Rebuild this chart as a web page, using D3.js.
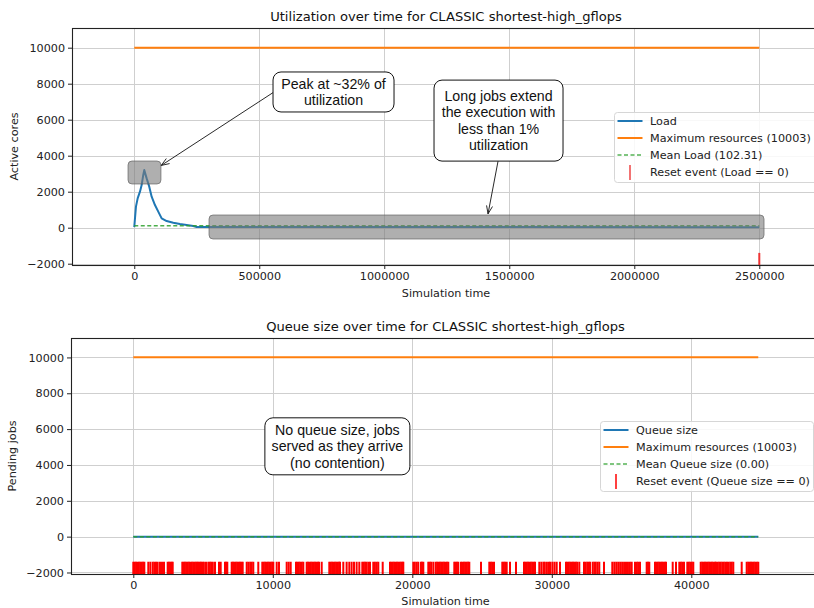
<!DOCTYPE html>
<html><head><meta charset="utf-8">
<script src="https://cdn.jsdelivr.net/npm/d3@7"></script>
<style>body{margin:0;background:#fff} svg{display:block}</style>
</head><body>
<svg id="chart" width="814" height="608"></svg>
<script>
// ---------------- DATA ----------------
const maxResources = 10003;
const meanLoad = 102.31;
const meanQueue = 0.0;
const loadTimes = [0, 6800, 13600, 22800, 29600, 36000, 40000, 49600, 60000, 69600, 82800, 96000, 109600, 129600, 156000, 182800, 209600, 236000, 249600, 2500000];
const loadValues = [30, 1170, 1630, 2000, 2370, 2930, 3200, 2740, 2280, 1720, 1260, 890, 520, 370, 280, 200, 150, 95, 40, 30];
const loadEndTime = 2500000;
const loadResetEvents = [2500000];
const queueTimes = [0, 44800];
const queueValues = [0, 0];
const queueEndTime = 44800;
const queueResetEvents = [
  0,100,200,300,400,500,600,700,790,
  1075,1220,1390,1505,1627,1748,1914,2057,2200,
  2465,2560,2660,2750,2824,
  3513,3610,3700,3800,3900,4000,4100,4200,4300,4400,4500,4600,4660,
  4780,4870,4960,5060,5211,
  5376,5480,5580,5700,5857,
  6143,6265,6573,6660,6738,
  7053,7150,7250,7350,7450,7550,7650,7750,7842,
  8129,8250,8380,8487,8602,8960,
  9247,9350,9450,9550,9650,9750,9850,9950,10036,
  10280,10444,10996,11140,11283,
  11663,11760,11860,11960,12080,12186,
  12430,12530,12630,12730,12830,12930,13030,13130,13230,13312,
  13505,
  14050,14150,14250,14350,14450,14550,14650,14750,14817,
  15054,15293,15484,15652,15819,16010,16201,
  16416,16520,16620,16720,16850,16968,
  17204,17320,17450,17563,17878,
  18402,18500,18600,18700,18800,18900,19000,19100,19200,19300,19355,
  20072,20180,20312,20430,20624,20700,20789,
  21147,21250,21350,21505,
  21677,21780,21880,21980,22080,22180,22280,22380,22480,22581,
  23011,23100,23200,23297,
  23492,23600,23700,23800,23900,24000,24086,
  24925,25520,25620,25720,25857,
  26452,26550,26650,26767,27004,27434,
  28007,28100,28200,28300,28400,28500,28600,28700,28796,
  29104,29250,29400,29500,29650,29800,29900,30050,30200,30351,
  30588,
  31018,31120,31220,31320,31420,31520,31620,31720,31820,31971,
  32308,32420,32540,32640,32738,
  32932,33050,33150,33280,33405,33742,
  34337,34480,34620,34760,34900,35040,35180,35320,35460,35600,35728,
  35964,36100,36200,36323,36802,36900,36989,
  37398,37500,37600,37700,37800,37900,38000,38100,38186,
  38667,38903,39140,39250,39350,39477,
  39714,39820,39920,40040,40143,
  40674,40780,40880,40980,41080,41180,41280,41380,41480,41580,41699,
  41771,41900,42007,
  42107,42220,42330,42440,42560,42680,42800,42900,43011,
  43613,
  43971,44080,44180,44280,44380,44480,44580,44700,44803
];
const yTicks = [-2000, 0, 2000, 4000, 6000, 8000, 10000];
const loadXTicks = [0, 500000, 1000000, 1500000, 2000000, 2500000];
const queueXTicks = [0, 10000, 20000, 30000, 40000];

// ---------------- SETUP ----------------
const svg = d3.select("#chart");
const C = {blue:"#1f77b4", orange:"#ff7f0e", green:"#2ca02c", red:"#ff0000"};
const tickFont = "DejaVu Sans, sans-serif";
const annFont = "Liberation Sans, Arial, sans-serif";
const FS = 11.2;

function panel(cfg) {
  const {left, right, top, bottom, xDomain, yDomain, xTicks, id} = cfg;
  const x = d3.scaleLinear().domain(xDomain).range([left, right]);
  const y = d3.scaleLinear().domain(yDomain).range([bottom, top]);
  const g = svg.append("g");
  svg.append("clipPath").attr("id", id).append("rect")
    .attr("x", left).attr("y", top).attr("width", right-left).attr("height", bottom-top);
  const grid = g.append("g").attr("stroke", "#cfcfcf").attr("stroke-width", 1);
  xTicks.forEach(t => grid.append("line").attr("x1", Math.round(x(t))+0.5).attr("x2", Math.round(x(t))+0.5).attr("y1", top).attr("y2", bottom));
  yTicks.forEach(t => grid.append("line").attr("y1", Math.round(y(t))+0.5).attr("y2", Math.round(y(t))+0.5).attr("x1", left).attr("x2", right));
  const xAxis = d3.axisBottom(x).tickValues(xTicks).tickFormat(d3.format("d")).tickSize(4).tickPadding(3);
  const yAxis = d3.axisLeft(y).tickValues(yTicks).tickFormat(d3.format("d")).tickSize(4).tickPadding(3);
  const gx = svg.append("g").attr("transform", `translate(0,${bottom})`).call(xAxis);
  const gy = svg.append("g").attr("transform", `translate(${left},0)`).call(yAxis);
  [gx, gy].forEach(a => {
    a.select(".domain").remove();
    a.selectAll("text").attr("font-family", tickFont).attr("font-size", FS).attr("fill", "#222");
    a.selectAll("line").attr("stroke", "#222");
  });
  const data = g.append("g").attr("clip-path", `url(#${id})`);
  return {x, y, g, data, left, right, top, bottom};
}

function frame(p) {
  svg.append("rect").attr("x", p.left+0.5).attr("y", p.top+0.5).attr("width", p.right-p.left).attr("height", p.bottom-p.top)
    .attr("fill", "none").attr("stroke", "#222").attr("stroke-width", 1.1);
}

function titles(p, title, xlabel, ylabel, titleY, xlabY, ylabX) {
  const cx = (p.left + p.right) / 2;
  svg.append("text").attr("x", cx).attr("y", titleY).attr("text-anchor", "middle")
    .attr("font-family", tickFont).attr("font-size", 13.1).attr("fill", "#111").text(title);
  svg.append("text").attr("x", cx).attr("y", xlabY).attr("text-anchor", "middle")
    .attr("font-family", tickFont).attr("font-size", FS).attr("fill", "#222").text(xlabel);
  svg.append("text").attr("transform", `translate(${ylabX},${(p.top+p.bottom)/2}) rotate(-90)`)
    .attr("text-anchor", "middle").attr("font-family", tickFont).attr("font-size", FS).attr("fill", "#222").text(ylabel);
}

function series(p, times, values, endTime, mean, events, eventColor) {
  const line = d3.line().x(d => p.x(d[0])).y(d => p.y(d[1]));
  p.data.append("path").attr("d", line([[0, maxResources], [endTime, maxResources]]))
    .attr("stroke", C.orange).attr("stroke-width", 2).attr("fill", "none");
  p.data.append("path").attr("d", line(times.map((t, i) => [t, values[i]])))
    .attr("stroke", C.blue).attr("stroke-width", 2).attr("fill", "none").attr("stroke-linejoin", "round");
  p.data.append("path").attr("d", line([[0, mean], [endTime, mean]]))
    .attr("stroke", C.green).attr("stroke-width", 1.5).attr("stroke-dasharray", "4,2.5").attr("fill", "none").attr("opacity", 0.85);
  p.data.append("g").selectAll("line").data(events).join("line")
    .attr("x1", d => p.x(d)).attr("x2", d => p.x(d))
    .attr("y1", p.y(-1400)).attr("y2", p.y(-2600))
    .attr("stroke", eventColor).attr("stroke-width", 2);
}

function legend(x, y, w, h, labels, eventColor) {
  const g = svg.append("g");
  g.append("rect").attr("x", x+0.5).attr("y", y+0.5).attr("width", w).attr("height", h).attr("rx", 3)
    .attr("fill", "#fff").attr("fill-opacity", 0.85).attr("stroke", "#d6d6d6").attr("stroke-width", 1);
  const rowH = 17, x0 = x + 3.5, x1 = x + 28.5, tx = x + 36;
  labels.forEach((lab, i) => {
    const cy = y + 9 + i * rowH;
    if (i === 0) g.append("line").attr("x1", x0).attr("x2", x1).attr("y1", cy).attr("y2", cy).attr("stroke", C.blue).attr("stroke-width", 2);
    if (i === 1) g.append("line").attr("x1", x0).attr("x2", x1).attr("y1", cy).attr("y2", cy).attr("stroke", C.orange).attr("stroke-width", 2);
    if (i === 2) g.append("line").attr("x1", x0).attr("x2", x1).attr("y1", cy).attr("y2", cy).attr("stroke", C.green).attr("stroke-width", 1.5).attr("stroke-dasharray", "4,2.5").attr("opacity", 0.8);
    if (i === 3) g.append("line").attr("x1", (x0+x1)/2).attr("x2", (x0+x1)/2).attr("y1", cy-7).attr("y2", cy+8).attr("stroke", eventColor).attr("stroke-width", 1.5);
    g.append("text").attr("x", tx).attr("y", cy).attr("dy", "0.35em").attr("font-family", tickFont)
      .attr("font-size", FS).attr("fill", "#222").text(lab);
  });
}

function note(p, cx, cy, lines, w, h) {
  const px = p.x(cx), py = p.y(cy);
  const g = svg.append("g");
  g.append("rect").attr("x", px - w/2).attr("y", py - h/2).attr("width", w).attr("height", h).attr("rx", 8)
    .attr("fill", "#fff").attr("stroke", "#111").attr("stroke-width", 1);
  const lh = 16.6;
  lines.forEach((l, i) => {
    g.append("text").attr("x", px).attr("y", py + (i - (lines.length-1)/2) * lh).attr("dy", "0.35em")
      .attr("text-anchor", "middle").attr("font-family", annFont).attr("font-size", 14.2).attr("fill", "#111").text(l);
  });
}

function highlight(p, x0, x1, y0, y1) {
  p.data.append("rect").attr("x", p.x(x0)).attr("y", p.y(y1)).attr("width", p.x(x1)-p.x(x0)).attr("height", p.y(y0)-p.y(y1))
    .attr("rx", 4).attr("fill", "#7a7a7a").attr("fill-opacity", 0.6).attr("stroke", "#555").attr("stroke-opacity", 0.6);
}

function arrow(p, fx, fy, tx, ty) {
  const x1 = p.x(fx), y1 = p.y(fy), x2 = p.x(tx), y2 = p.y(ty);
  const g = svg.append("g");
  g.append("line").attr("x1", x1).attr("y1", y1).attr("x2", x2).attr("y2", y2).attr("stroke", "#111").attr("stroke-width", 0.9);
  const a = Math.atan2(y2 - y1, x2 - x1), L = 8, W = 3;
  const bx = x2 - L * Math.cos(a), by = y2 - L * Math.sin(a);
  g.append("path").attr("d", `M${bx + W*Math.sin(a)},${by - W*Math.cos(a)} L${x2},${y2} L${bx - W*Math.sin(a)},${by + W*Math.cos(a)}`)
    .attr("fill", "none").attr("stroke", "#111").attr("stroke-width", 0.9);
}

// ---------------- TOP PANEL ----------------
const P1 = panel({id:"c1", left:72, right:820, top:28, bottom:265,
  xDomain:[-249000, 2742800], yDomain:[-2072, 11094], xTicks: loadXTicks});
series(P1, loadTimes, loadValues, loadEndTime, meanLoad, loadResetEvents, "#ee3333");
highlight(P1, -25000, 106800, 2428, 3706);
highlight(P1, 299000, 2519000, -628, 706);
frame(P1);
titles(P1, "Utilization over time for CLASSIC shortest-high_gflops", "Simulation time", "Active cores", 21, 297, 18);
arrow(P1, 559000, 7540, 108000, 3460);
arrow(P1, 1455000, 3690, 1415000, 770);
note(P1, 797000, 7540, ["Peak at ~32% of", "utilization"], 121, 40);
note(P1, 1457000, 5950, ["Long jobs extend", "the execution with", "less than 1%", "utilization"], 129, 81);
legend(614, 112, 215, 70, ["Load", "Maximum resources (10003)", "Mean Load (102.31)", "Reset event (Load == 0)"], "#ee4444");

// ---------------- BOTTOM PANEL ----------------
const P2 = panel({id:"c2", left:71, right:820, top:338, bottom:574,
  xDomain:[-4466, 49226], yDomain:[-2084, 11084], xTicks: queueXTicks});
series(P2, queueTimes, queueValues, queueEndTime, meanQueue, queueResetEvents, C.red);
frame(P2);
titles(P2, "Queue size over time for CLASSIC shortest-high_gflops", "Simulation time", "Pending jobs", 331, 605, 16);
note(P2, 14630, 5040, ["No queue size, jobs", "served as they arrive", "(no contention)"], 145, 57);
legend(600, 421, 213, 70, ["Queue size", "Maximum resources (10003)", "Mean Queue size (0.00)", "Reset event (Queue size == 0)"], C.red);
</script>
</body></html>
